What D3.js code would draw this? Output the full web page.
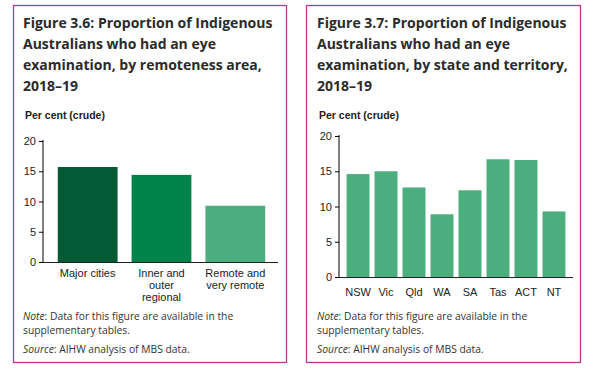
<!DOCTYPE html>
<html>
<head>
<meta charset="utf-8">
<script src="https://cdn.jsdelivr.net/npm/d3@7"></script>
<style>
  body { margin: 0; background: #fff; }
  svg text { fill: #222; }
</style>
</head>
<body>
<div id="chart"></div>
<script>
const width = 601;
const height = 388;

// Figure 3.6 data
const remoteCats = [["Major cities"], ["Inner and", "outer", "regional"], ["Remote and", "very remote"]];
const remoteValues = [15.7, 14.4, 9.3];
const remoteColors = ["#045a34", "#00834b", "#4cae7e"];

// Figure 3.7 data
const stateCats = ["NSW", "Vic", "Qld", "WA", "SA", "Tas", "ACT", "NT"];
const stateValues = [14.6, 15.0, 12.7, 8.9, 12.3, 16.7, 16.6, 9.3];
const stateColor = "#4cae7e";

const yTicks = [0, 5, 10, 15, 20];

const titleLeft = ["Figure 3.6: Proportion of Indigenous", "Australians who had an eye", "examination, by remoteness area,", "2018–19"];
const titleRight = ["Figure 3.7: Proportion of Indigenous", "Australians who had an eye", "examination, by state and territory,", "2018–19"];

const svg = d3.select("#chart").append("svg")
    .attr("width", width)
    .attr("height", height);

// italic label + plain remainder, as two separate texts side by side
function labelled(g, x, y, lead, rest) {
    const a = g.append("text")
        .attr("x", x).attr("y", y)
        .style("font-family", "'Open Sans', sans-serif")
        .style("font-size", "10.3px")
        .style("font-style", "italic")
        .style("fill", "#333")
        .text(lead);
    const w = a.node().getComputedTextLength();
    g.append("text")
        .attr("x", x + w).attr("y", y)
        .style("font-family", "'Open Sans', sans-serif")
        .style("font-size", "10.3px")
        .style("fill", "#333")
        .text(rest);
}

function panel(opt) {
    const g = svg.append("g");

    g.append("rect")
        .attr("x", opt.box[0] + 0.5).attr("y", 5.5)
        .attr("width", opt.box[1] - opt.box[0]).attr("height", 357)
        .attr("fill", "none").attr("stroke", "#b83b8a").attr("stroke-width", 1.3);

    g.append("text")
        .attr("x", opt.tx).attr("y", 28)
        .style("font-family", "'Open Sans', sans-serif")
        .style("font-weight", "bold")
        .style("font-size", "14px")
        .style("fill", "#2b2b2b")
        .selectAll("tspan")
        .data(opt.title)
        .join("tspan")
        .attr("x", opt.tx)
        .attr("dy", (d, i) => i === 0 ? 0 : 21)
        .text(d => d);

    g.append("text")
        .attr("x", opt.tx + 2).attr("y", 119)
        .style("font-family", "'Liberation Sans', Arial, sans-serif")
        .style("font-weight", "bold")
        .style("font-size", "10.5px")
        .text("Per cent (crude)");

    const y = d3.scaleLinear().domain([0, 20]).range([opt.y0, opt.y1]);
    const x = d3.scaleBand().domain(d3.range(opt.values.length))
        .range([opt.x0, opt.x1]).paddingInner(opt.pi).paddingOuter(opt.po);

    g.selectAll(".bar")
        .data(opt.values)
        .join("rect")
        .attr("class", "bar")
        .attr("x", (d, i) => x(i))
        .attr("width", x.bandwidth())
        .attr("y", d => y(d))
        .attr("height", d => y(0) - y(d))
        .attr("fill", (d, i) => opt.colors[i]);

    const yAxis = g.append("g")
        .attr("transform", `translate(${opt.x0},0)`)
        .call(d3.axisLeft(y).tickValues(yTicks).tickSize(4).tickPadding(3));
    yAxis.select(".domain").attr("d", `M0,${opt.y1 - 1}V${opt.y0}`);
    yAxis.selectAll("text")
        .style("font-family", "'Liberation Sans', Arial, sans-serif")
        .style("font-size", "11px")
        .attr("fill", "#222");

    g.append("line")
        .attr("x1", opt.x0).attr("x2", opt.xEnd)
        .attr("y1", opt.y0 + 0.5).attr("y2", opt.y0 + 0.5)
        .attr("stroke", "#222");

    g.selectAll(".xlab")
        .data(opt.cats)
        .join("text")
        .attr("class", "xlab")
        .attr("text-anchor", "middle")
        .attr("y", opt.y0 + opt.labDy)
        .style("font-family", "'Liberation Sans', Arial, sans-serif")
        .style("font-size", "11px")
        .selectAll("tspan")
        .data((d, i) => (Array.isArray(d) ? d : [d]).map(t => ({ t, i })))
        .join("tspan")
        .attr("x", d => x(d.i) + x.bandwidth() / 2)
        .attr("dy", (d, j) => j === 0 ? 0 : 12)
        .text(d => d.t);

    labelled(g, opt.tx, 320, "Note", ": Data for this figure are available in the");
    g.append("text")
        .attr("x", opt.tx).attr("y", 334)
        .style("font-family", "'Open Sans', sans-serif")
        .style("font-size", "10.3px")
        .style("fill", "#333")
        .text("supplementary tables.");
    labelled(g, opt.tx, 353, "Source", ": AIHW analysis of MBS data.");
}

panel({
    box: [13, 286], tx: 23, title: titleLeft,
    values: remoteValues, cats: remoteCats, colors: remoteColors,
    x0: 43, x1: 280, xEnd: 278, y0: 262, y1: 141, pi: 0.19, po: 0.2, labDy: 15
});

panel({
    box: [306, 580], tx: 317, title: titleRight,
    values: stateValues, cats: stateCats, colors: stateValues.map(() => stateColor),
    x0: 339, x1: 573, xEnd: 573, y0: 277, y1: 136, pi: 0.18, po: 0.27, labDy: 19
});
</script>
</body>
</html>
